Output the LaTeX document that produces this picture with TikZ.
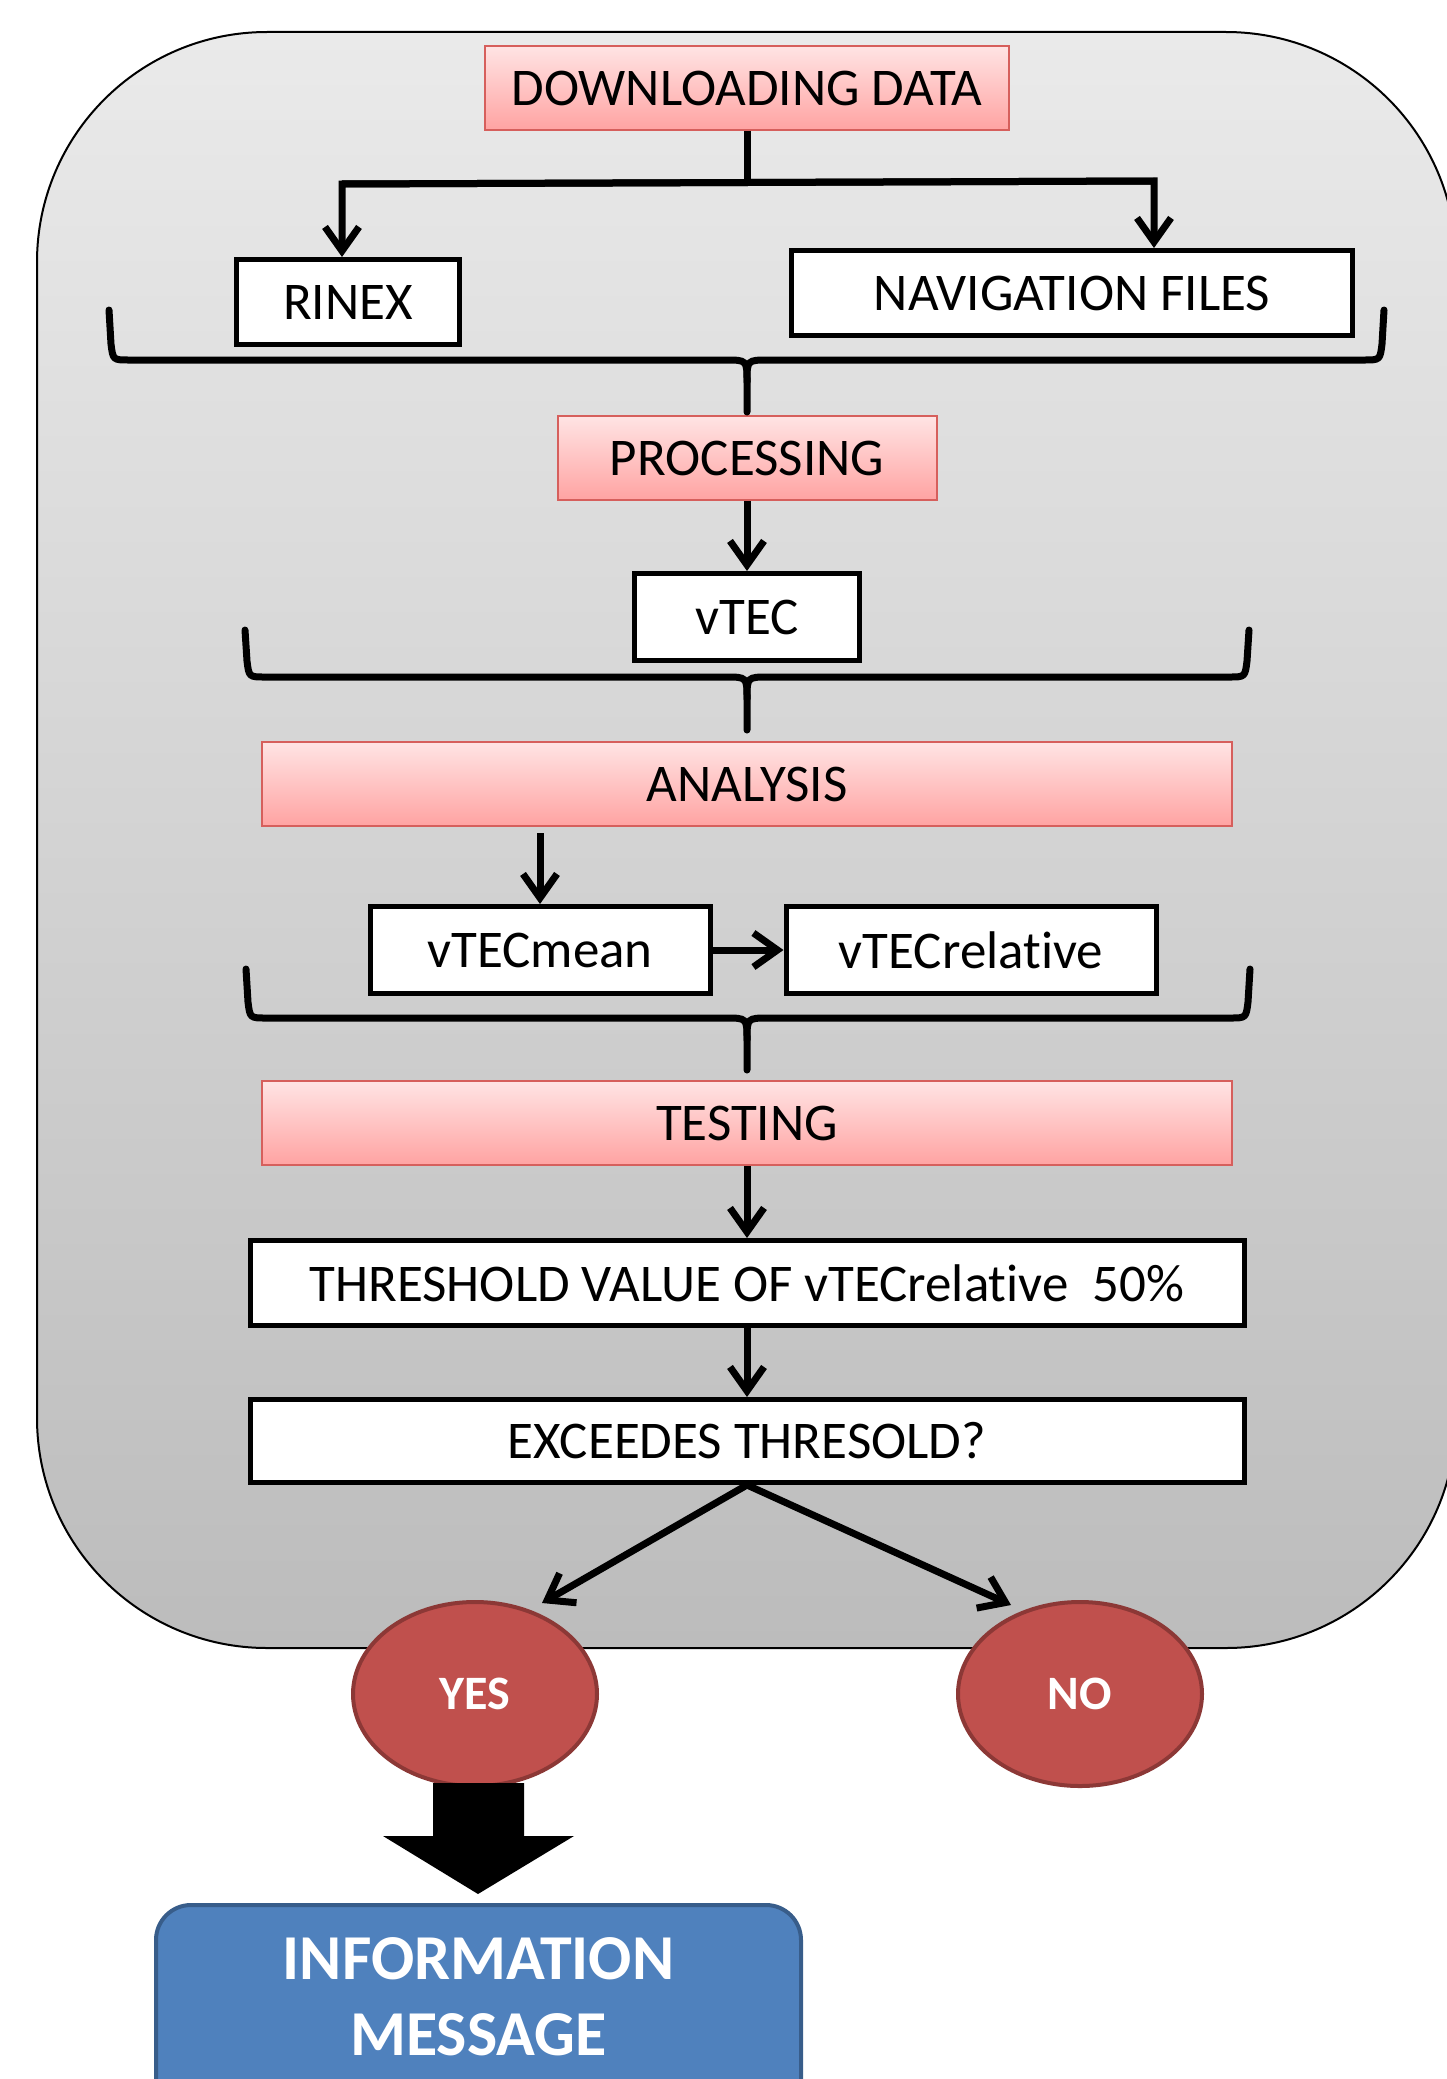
\documentclass[tikz,border=0pt]{standalone}
\usepackage{fontspec}
\setmainfont{Carlito}[Ligatures={NoCommon,NoRare,NoContextual}]
\usetikzlibrary{arrows.meta,shapes.geometric,calc}
\definecolor{bgtop}{HTML}{EAEAEA}
\definecolor{bgbot}{HTML}{BCBCBC}
\definecolor{pinktop}{HTML}{FFE4E4}
\definecolor{pinkbot}{HTML}{FFA3A2}
\definecolor{pinkline}{HTML}{D65F5C}
\definecolor{redfill}{HTML}{C0504D}
\definecolor{redline}{HTML}{8C3836}
\definecolor{bluefill}{HTML}{4F81BD}
\definecolor{blueline}{HTML}{385D8A}
\newcommand\mybrace[5]{%
  \draw[bracestyle] (#1,#3) -- (#1+2,#4-16) .. controls (#1+4,#4) .. (#1+20,#4) -- (725,#4) .. controls (747,#4) .. (747,#4+22) -- (747,#5);
  \draw[bracestyle] (#2,#3) -- (#2-2,#4-16) .. controls (#2-4,#4) .. (#2-20,#4) -- (769,#4) .. controls (747,#4) .. (747,#4+22);
}
\begin{document}
\begin{tikzpicture}[x=1pt,y=-1pt,
  every node/.style={font=\fontsize{53}{63}\selectfont, inner sep=0pt},
  stepbox/.style={draw=pinkline, line width=2pt, top color=pinktop, bottom color=pinkbot, minimum height=84pt},
  databox/.style={draw=black, line width=5pt, fill=white, minimum height=85pt},
  conn/.style={line width=7pt},
  arr/.style={conn, -{Straight Barb[length=24pt,width=34pt]}},
  bracestyle/.style={line width=7pt, line join=round, line cap=round},
  answer/.style={ellipse, draw=redline, line width=4pt, fill=redfill, text=white,
    font=\fontsize{48}{54}\selectfont\bfseries, minimum width=244pt, minimum height=184pt},
]
\useasboundingbox (0,0) rectangle (1446,2079);
% background panel
\path[draw=black, line width=2pt, top color=bgtop, bottom color=bgbot, rounded corners=230pt]
  (37,32) rectangle (1456,1648);

% nodes
\node[stepbox, minimum width=524pt] (dl) at (747,88) {DOWNLOADING DATA};
\node[databox, minimum width=223pt] (rinex) at (348,302) {RINEX};
\node[databox, minimum width=561pt] (nav) at (1072,293) {NAVIGATION FILES};
\node[stepbox, minimum width=379pt] (proc) at (747,458) {PROCESSING};
\node[databox, minimum width=225pt, minimum height=87pt] (vtec) at (747,617) {vTEC};
\node[stepbox, minimum width=970pt] (ana) at (747,784) {ANALYSIS};
\node[databox, minimum width=340pt, minimum height=87pt] (vmean) at (540,950) {vTECmean};
\node[databox, minimum width=370pt, minimum height=87pt] (vrel) at (971,950) {vTECrelative};
\node[stepbox, minimum width=970pt] (test) at (747,1123) {TESTING};
\node[databox, minimum width=994pt] (thr) at (747,1283) {THRESHOLD VALUE OF vTECrelative\ \ 50\%};
\node[databox, minimum width=994pt, minimum height=83pt] (exc) at (747,1441) {EXCEEDES THRESOLD?};
\node[answer] (yes) at (475,1694) {YES};
\node[answer] (no) at (1080,1694) {NO};
\node[draw=blueline, line width=4pt, fill=bluefill, rounded corners=35pt,
  minimum width=645pt, minimum height=300pt,
  label={[yshift=58pt, text=white, align=center, font=\fontsize{64}{76}\selectfont\bfseries]center:INFORMATION\\MESSAGE}]
  (info) at (478.5,2055) {};

% connectors
\coordinate (jl) at (342,184);
\coordinate (jr) at (1154,181);
\draw[conn] (dl.south) -- (dl.south |- jl);
\draw[arr] (jr) -- (jl) -- (jl |- rinex.north);
\draw[arr] (jl) -- (jr) -- (jr |- nav.north);
\mybrace{109}{1384}{310}{360}{412}
\draw[arr] (proc) -- (vtec);
\mybrace{245}{1249}{630}{677}{730}
\draw[arr, shorten <=6pt] (vmean.north |- ana.south) -- (vmean.north);
\draw[arr] (vmean) -- (vrel);
\mybrace{246}{1250}{969}{1018}{1070}
\draw[arr] (test) -- (thr);
\draw[arr] (thr) -- (exc);
\draw[arr] (exc.south) -- ($(yes.center)+(67,-91)$);
\draw[arr] (exc.south) -- ($(no.center)+(-69,-89)$);
% block arrow from YES to INFORMATION MESSAGE
\fill (433,1783) -- (524,1783) -- (524,1836) -- (574,1836) -- (478,1894) -- (383,1836) -- (433,1836) -- cycle;
\end{tikzpicture}
\end{document}
